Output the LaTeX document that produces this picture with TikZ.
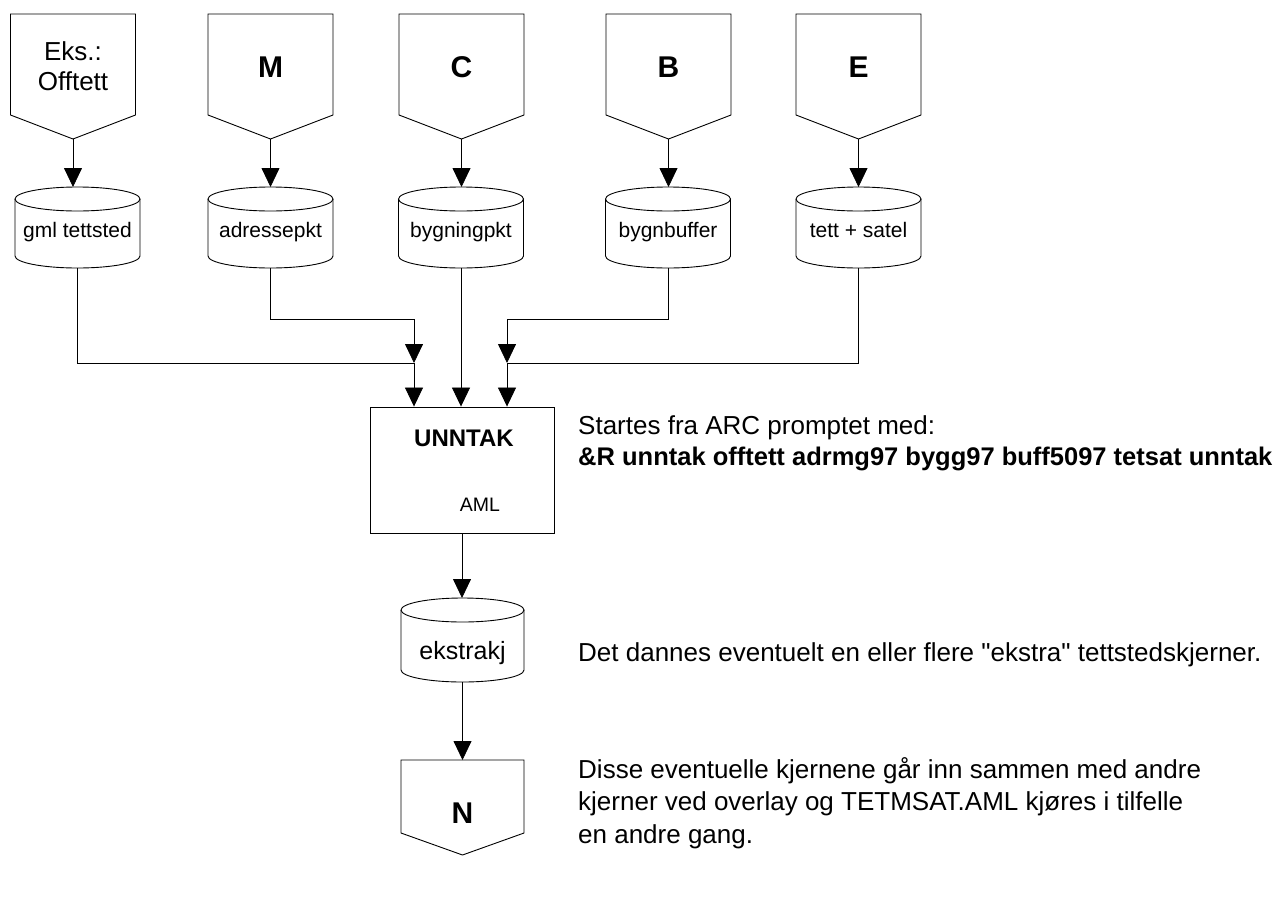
\documentclass[tikz,border=0pt]{standalone}
\usepackage{fontspec}
\setmainfont{Liberation Sans}[Ligatures=TeXOff]
\usetikzlibrary{arrows.meta}

% storage cylinder drawn over a rectangular node #1; #2 = half width of the ellipses
\newcommand\storecyl[2]{%
  \draw[outline] ([yshift=-12pt]#1.north west) -- ([yshift=12pt]#1.south west)
    arc[start angle=180,end angle=360,x radius=#2,y radius=12pt]
    -- ([yshift=-12pt]#1.north east);
  \draw[outline] ([yshift=-12pt]#1.north) ellipse[x radius=#2,y radius=12pt];
}
% off-page connector drawn over a rectangular node #1, with a point of depth #2 below
\newcommand\offpage[2]{%
  \draw[outline] (#1.north west) -- (#1.north east) -- (#1.south east)
    -- ([yshift=-#2]#1.south) -- (#1.south west) -- cycle;
  \coordinate (#1-tip) at ([yshift=-#2]#1.south);
}

\begin{document}
\begin{tikzpicture}[x=1pt,y=-1pt,
  outline/.style={draw=black,line width=0.9pt},
  flow/.style={draw=black,line width=0.8pt},
  arrow/.style={flow,-{Triangle[width=18pt,length=19pt]}},
  body/.style={inner sep=0pt,outer sep=0pt,minimum width=125pt},
  srcbox/.style={body,minimum height=101pt},
  cylbox/.style={body,minimum height=81pt},
  srctext/.style={inner sep=0pt,align=center,font=\fontsize{26}{30}\selectfont},
  srcletter/.style={inner sep=0pt,font=\fontsize{30}{32}\selectfont\bfseries},
  cyltext/.style={inner sep=0pt,anchor=base,font=\fontsize{21}{25}\selectfont},
  notefont/.style={inner sep=0pt,font=\fontsize{26}{32.5}\selectfont},
  note/.style={notefont,align=left},
]
\useasboundingbox (0,0) rectangle (1281,897);

% input themes
\node[srcbox] (sO) at (73,64.5) {};
\offpage{sO}{24pt}
\node[srctext] (sOt) at (73,66.5) {Eks.:\\Offtett};

\node[srcbox] (sM) at (270.5,64.5) {};
\offpage{sM}{24pt}
\node[srcletter] (sMt) at (270.5,67) {M};

\node[srcbox] (sC) at (461.5,64.5) {};
\offpage{sC}{24pt}
\node[srcletter] (sCt) at (461.5,67) {C};

\node[srcbox] (sB) at (668.5,64.5) {};
\offpage{sB}{24pt}
\node[srcletter] (sBt) at (668.5,67) {B};

\node[srcbox] (sE) at (858.5,64.5) {};
\offpage{sE}{24pt}
\node[srcletter] (sEt) at (858.5,67) {E};

% coverages
\node[cylbox] (dG) at (77.5,227.5) {};
\storecyl{dG}{62.5pt}
\node[cyltext] (dGt) at (77.5,237) {gml tettsted};

\node[cylbox] (dA) at (270.5,227.5) {};
\storecyl{dA}{62.5pt}
\node[cyltext] (dAt) at (270.5,237) {adressepkt};

\node[cylbox] (dC) at (461,227.5) {};
\storecyl{dC}{62.5pt}
\node[cyltext] (dCt) at (461,237) {bygningpkt};

\node[cylbox] (dB) at (668,227.5) {};
\storecyl{dB}{62.5pt}
\node[cyltext] (dBt) at (668,237) {bygnbuffer};

\node[cylbox] (dE) at (858.5,227.5) {};
\storecyl{dE}{62.5pt}
\node[cyltext] (dEt) at (858.5,237) {tett + satel};

\draw[arrow] (sO-tip) -- (sO-tip |- dG.north);
\draw[arrow] (sM-tip) -- (sM-tip |- dA.north);
\draw[arrow] (sC-tip) -- (sC-tip |- dC.north);
\draw[arrow] (sB-tip) -- (sB-tip |- dB.north);
\draw[arrow] (sE-tip) -- (sE-tip |- dE.north);

% AML program
\node[outline,inner sep=0pt,minimum width=184pt,minimum height=126pt] (run) at (462,470) {};
\node[inner sep=0pt,font=\fontsize{24}{28}\selectfont\bfseries] (runt) at (464,438) {UNNTAK};
\node[inner sep=0pt,font=\fontsize{19.5}{22}\selectfont] (runa) at (480,505) {AML};

% collecting lines
\coordinate (jL) at (414,363);
\coordinate (jR) at (507,363);
\coordinate (kL) at (414,319);
\coordinate (kR) at (507,319);
\draw[flow] (dG.south) |- (jL);
\draw[arrow] (dA.south) |- (kL) -- (jL);
\draw[arrow] (jL) -- (jL |- run.north);
\draw[arrow] (dC.south) -- (dC.south |- run.north);
\draw[arrow] (dB.south) |- (kR) -- (jR);
\draw[flow] (dE.south) |- (jR);
\draw[arrow] (jR) -- (jR |- run.north);

% result
\node[body,minimum width=123pt,minimum height=84pt] (dX) at (462.5,640) {};
\storecyl{dX}{61.5pt}
\node[inner sep=0pt,anchor=base,font=\fontsize{25}{28}\selectfont] (dXt) at (462.5,659) {ekstrakj};
\draw[arrow] (run.south) -- (run.south |- dX.north);

\node[body,minimum width=123pt,minimum height=73pt] (sN) at (462.5,796.5) {};
\offpage{sN}{22pt}
\node[srcletter] (sNt) at (462.5,813) {N};
\draw[arrow] (dX.south) -- (dX.south |- sN.north);

% explanations
\node[inner sep=0pt,align=left,anchor=west,font=\fontsize{26}{31}\selectfont] (n1) at (578,443)
  {Startes fra ARC promptet med:\\{\fontsize{25.5}{31}\selectfont\bfseries \&R unntak offtett adrmg97 bygg97 buff5097 tetsat unntak}};
\node[notefont,anchor=base west] (n2) at (578,661)
  {Det dannes eventuelt en eller flere "ekstra" tettstedskjerner.};
\node[note,anchor=north west] (n3) at (578,757)
  {Disse eventuelle kjernene går inn sammen med andre\\kjerner ved overlay og TETMSAT.AML kjøres i tilfelle\\en andre gang.};
\end{tikzpicture}
\end{document}
